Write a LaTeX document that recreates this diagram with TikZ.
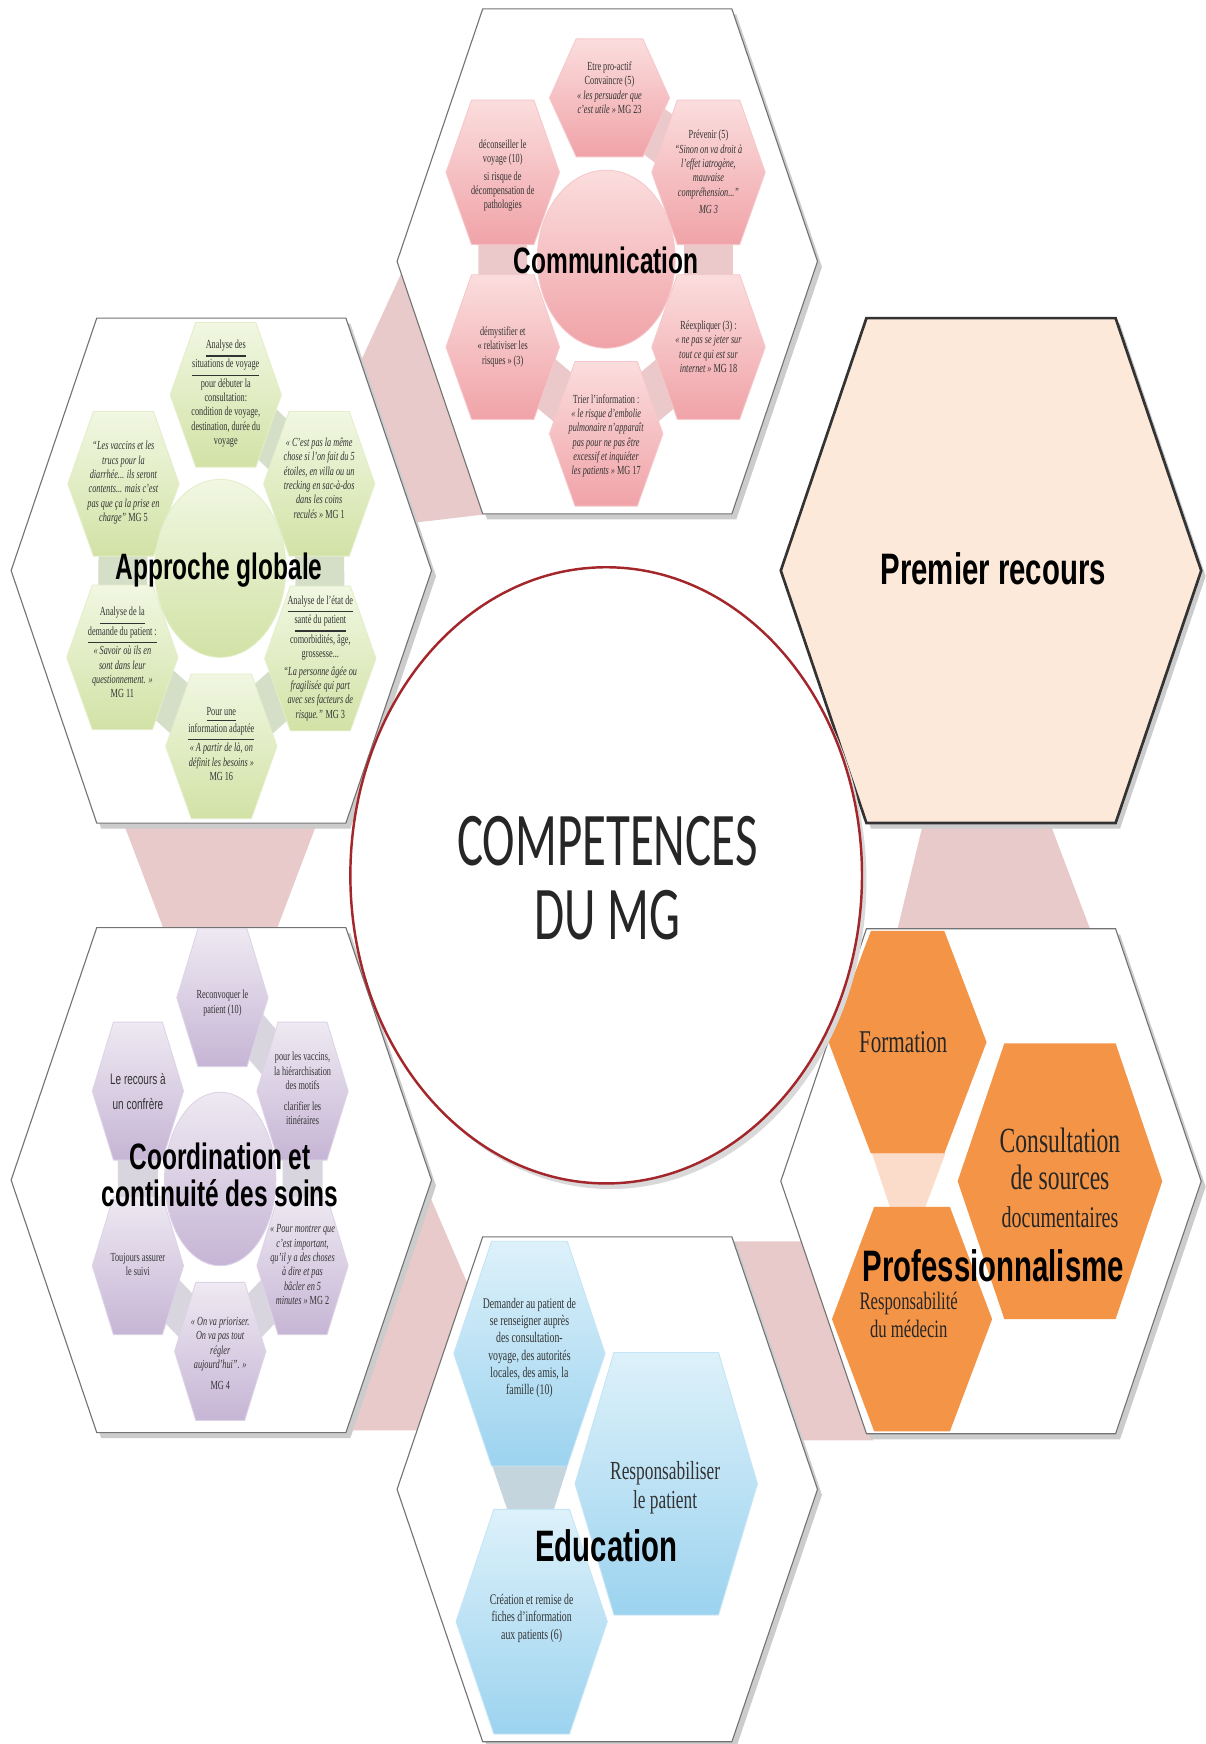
\documentclass[tikz,border=0pt]{standalone}
\usepackage{fontspec}
\usepackage{graphicx}
\setmainfont{Liberation Serif}
\setsansfont{Liberation Sans}
\newfontfamily\calib{Carlito}
\definecolor{biglinkc}{HTML}{E8CACB}
\definecolor{commtopc}{HTML}{FBDDDD}
\definecolor{commbotc}{HTML}{F0A3A8}
\definecolor{commlinkc}{HTML}{EBC8C9}
\definecolor{apprtopc}{HTML}{F1F7E2}
\definecolor{apprbotc}{HTML}{D2E2A6}
\definecolor{apprlinkc}{HTML}{D5DEC6}
\definecolor{coordtopc}{HTML}{EEE9F2}
\definecolor{coordbotc}{HTML}{C6B5D5}
\definecolor{coordlinkc}{HTML}{D9D5DE}
\definecolor{edutopc}{HTML}{DDF1FA}
\definecolor{edubotc}{HTML}{9CD3EF}
\definecolor{edulinkc}{HTML}{C5D5DD}
\definecolor{orangec}{HTML}{F39447}
\definecolor{proflinkc}{HTML}{FBDCCB}
\definecolor{premc}{HTML}{FDE9D9}
\definecolor{ringredc}{HTML}{A3262A}
\newcommand{\hexat}[6][]{\path[#1] ({#2-#4},{#3}) -- ({#2-#5},{#3-#6}) -- ({#2+#5},{#3-#6}) -- ({#2+#4},{#3}) -- ({#2+#5},{#3+#6}) -- ({#2-#5},{#3+#6}) -- cycle;}
\newcommand{\vstr}[2][1.5]{\scalebox{1}[#1]{#2}}
\newcommand{\txtlines}[1]{\begin{tabular}{@{}c@{}}#1\end{tabular}}

\begin{document}
\begin{tikzpicture}[x=0.5pt,y=-0.5pt,
  bighex/.style={fill=white,draw=black!55,line width=0.5pt},
  bigshade/.style={fill=black!20},
  biglink/.style={fill=biglinkc},
  commhex/.style={top color=commtopc,bottom color=commbotc,draw=commbotc!60},
  commlink/.style={draw=commlinkc,line width=22pt,line join=round},
  apprhex/.style={top color=apprtopc,bottom color=apprbotc,draw=apprbotc!60},
  apprlink/.style={draw=apprlinkc,line width=22pt,line join=round},
  coordhex/.style={top color=coordtopc,bottom color=coordbotc,draw=coordbotc!60},
  coordlink/.style={draw=coordlinkc,line width=18pt,line join=round},
  eduhex/.style={top color=edutopc,bottom color=edubotc,draw=edubotc!60},
  profhex/.style={fill=orangec},
  txt/.style={inner sep=0pt,text=black!80,font=\fontsize{3.7}{4.3}\selectfont},
  edtxt/.style={inner sep=0pt,text=black!80,font=\fontsize{4.4}{5.2}\selectfont},
  title/.style={inner sep=0pt,font=\sffamily\bfseries\fontsize{11}{10.7}\selectfont},
  bigtitle/.style={inner sep=0pt,font=\sffamily\bfseries\fontsize{13.2}{13}\selectfont}]
\useasboundingbox (0,0) rectangle (1084,1568);
\fill[white] (0,0) rectangle (1084,1568);

\fill[biglink] (362,243) -- (322,330) -- (372,470) -- (440,462) -- cycle;
\fill[biglink] (111,740) -- (285,740) -- (249,835) -- (147,835) -- cycle;
\fill[biglink] (385,1072) -- (440,1200) -- (378,1286) -- (300,1286) -- cycle;
\fill[biglink] (640,1116) -- (725,1116) -- (785,1295) -- (705,1295) -- cycle;
\fill[biglink] (830,740) -- (944,740) -- (980,835) -- (807,835) -- cycle;

\foreach \cx/\cy in {546/235,199/513,199/1061,891/1062,546/1339,891/513} {
  \hexat[bigshade]{\cx+4}{\cy+5}{189}{112}{227}
  \hexat[bighex]{\cx}{\cy}{189}{112}{227}}
\hexat[fill=premc,draw=black!80,line width=1.2pt]{891}{513}{189}{112}{227}

\draw[commlink] (548,88) -- (637,155) -- (637,312) -- (545,390) -- (452,312) -- (452,155);
\hexat[commhex]{548}{88}{54}{30}{53}
\foreach \cx/\cy in {637/155,637/312,545/390,452/312,452/155} {\hexat[commhex]{\cx}{\cy}{51}{28}{65}}
\path[commhex] (545,233) ellipse [x radius=62, y radius=80];
\node[txt] (comm-top) at (548,80) {\vstr{\txtlines{Etre pro-actif\\ Convaincre (5)\\ \textit{« les persuader que}\\ \textit{c'est utile »} MG 23}}};
\node[txt] (comm-ur) at (637,156) {\vstr{\txtlines{Prévenir (5)\\ \textit{“Sinon on va droit à}\\ \textit{l'effet iatrogène,}\\ \textit{mauvaise}\\ \textit{compréhension...”}\\[1pt] \textit{MG 3}}}};
\node[txt] (comm-lr) at (637,313) {\vstr{\txtlines{Réexpliquer (3) :\\ \textit{« ne pas se jeter sur}\\ \textit{tout ce qui est sur}\\ \textit{internet »} MG 18}}};
\node[txt] (comm-bot) at (545,392) {\vstr{\txtlines{Trier l'information :\\ \textit{« le risque d'embolie}\\ \textit{pulmonaire n'apparaît}\\ \textit{pas pour ne pas être}\\ \textit{excessif et inquiéter}\\ \textit{les patients »} MG 17}}};
\node[txt] (comm-ll) at (452,312) {\vstr{\txtlines{démystifier et\\ « relativiser les\\ risques » (3)}}};
\node[txt] (comm-ul) at (452,158) {\vstr{\txtlines{déconseiller le\\ voyage (10)\\[1pt] si risque de\\ décompensation de\\ pathologies}}};
\node[title] (comm-title) at (545,234) {\vstr{Communication}};

\draw[apprlink] (203,355) -- (287,435) -- (288,592) -- (199,671) -- (110,591) -- (111,435);
\foreach \cx/\cy in {203/355,287/435,288/592,199/671,110/591,111/435} {\hexat[apprhex]{\cx}{\cy}{50}{27}{65}}
\path[apprhex] (198,511) ellipse [x radius=59, y radius=80];
\node[txt] (appr-top) at (203,354) {\vstr{\txtlines{\underline{Analyse des}\\ \underline{situations de voyage}\\ pour débuter la\\ consultation:\\ condition de voyage,\\ destination, durée du\\ voyage}}};
\node[txt] (appr-ur) at (287,431) {\vstr{\txtlines{\textit{« C'est pas la même}\\ \textit{chose si l'on fait du 5}\\ \textit{étoiles, en villa ou un}\\ \textit{trecking en sac-à-dos}\\ \textit{dans les coins}\\ \textit{reculés »} MG 1}}};
\node[txt] (appr-lr) at (288,592) {\vstr{\txtlines{\underline{Analyse de l'état de}\\ \underline{santé du patient}\\[1pt] comorbidités, âge,\\ grossesse...\\[1pt] \textit{“La personne âgée ou}\\ \textit{fragilisée qui part}\\ \textit{avec ses facteurs de}\\ \textit{risque.”} MG 3}}};
\node[txt] (appr-bot) at (199,670) {\vstr{\txtlines{\underline{Pour une}\\ \underline{information adaptée}\\[1pt] \textit{« A partir de là, on}\\ \textit{définit les besoins »}\\ MG 16}}};
\node[txt] (appr-ll) at (110,588) {\vstr{\txtlines{\underline{Analyse de la}\\ \underline{demande du patient :}\\ \textit{« Savoir où ils en}\\ \textit{sont dans leur}\\ \textit{questionnement. »}\\ MG 11}}};
\node[txt] (appr-ul) at (111,434) {\vstr{\txtlines{\textit{“Les vaccins et les}\\ \textit{trucs pour la}\\ \textit{diarrhée... ils seront}\\ \textit{contents... mais c'est}\\ \textit{pas que ça la prise en}\\ \textit{charge”} MG 5}}};
\node[title] (appr-title) at (197,513) {\vstr{Approche globale}};

\node[bigtitle] (prem-title) at (893,511) {\vstr{Premier recours}};

\draw[coordlink] (200,897) -- (272,981) -- (272,1138) -- (198,1215) -- (124,1138) -- (124,981);
\foreach \cx/\cy in {200/897,272/981,272/1138,198/1215,124/1138,124/981} {\hexat[coordhex]{\cx}{\cy}{41}{22}{62}}
\path[coordhex] (198,1060) ellipse [x radius=50, y radius=78];
\node[txt] (coord-top) at (200,902) {\vstr{\txtlines{Reconvoquer le\\ patient (10)}}};
\node[txt] (coord-ur) at (272,980) {\vstr{\txtlines{pour les vaccins,\\ la hiérarchisation\\ des motifs\\[2pt] clarifier les\\ itinéraires}}};
\node[txt] (coord-lr) at (272,1138) {\vstr{\txtlines{\textit{« Pour montrer que}\\ \textit{c'est important,}\\ \textit{qu'il y a des choses}\\ \textit{à dire et pas}\\ \textit{bâcler en 5}\\ \textit{minutes »} MG 2}}};
\node[txt] (coord-bot) at (198,1218) {\vstr{\txtlines{\textit{« On va prioriser.}\\ \textit{On va pas tout}\\ \textit{régler}\\ \textit{aujourd'hui”. »}\\[2pt] MG 4}}};
\node[txt] (coord-ll) at (124,1138) {\vstr{\txtlines{Toujours assurer\\ le suivi}}};
\node[txt,font=\sffamily\fontsize{4.5}{7.3}\selectfont] (coord-ul) at (124,982) {\vstr{\txtlines{Le recours à\\ un confrère}}};
\node[title] (coord-title) at (198,1061) {\vstr{\txtlines{Coordination et\\ continuité des soins}}};

\fill[edulinkc] (442,1316) -- (511,1316) -- (497,1360) -- (457,1360) -- cycle;
\hexat[eduhex]{476}{1217}{68}{34}{101}
\hexat[eduhex]{599}{1334}{82}{47}{118}
\hexat[eduhex]{478}{1458}{68}{34}{101}
\node[edtxt] (edu-dem) at (476,1212) {\vstr{\txtlines{Demander au patient de\\ se renseigner auprès\\ des consultation-\\ voyage, des autorités\\ locales, des amis, la\\ famille (10)}}};
\node[inner sep=0pt,text=black!80,font=\fontsize{7.8}{8.7}\selectfont] (edu-resp) at (598,1338) {\vstr{\txtlines{Responsabiliser\\ le patient}}};
\node[edtxt] (edu-crea) at (478,1455) {\vstr{\txtlines{Création et remise de\\ fiches d'information\\ aux patients (6)}}};
\node[bigtitle] (edu-title) at (545,1390) {\vstr{Education}};

\fill[proflinkc] (784,1037) -- (850,1037) -- (832,1085) -- (800,1085) -- cycle;
\hexat[profhex]{816}{937}{71}{33}{100}
\hexat[profhex]{953}{1062}{92}{50}{124}
\hexat[profhex]{820}{1186}{72}{34}{101}
\node[inner sep=0pt,text=black!85,font=\fontsize{9.5}{11}\selectfont] (prof-form) at (812,937) {\vstr{Formation}};
\node[inner sep=0pt,text=black!85,font=\fontsize{10.6}{11.3}\selectfont] (prof-cons) at (953,1063) {\vstr{\txtlines{Consultation\\ de sources\\ {\fontsize{9}{11.3}\selectfont documentaires}}}};
\node[inner sep=0pt,text=black!85,font=\fontsize{7.5}{8.3}\selectfont] (prof-resp) at (817,1185) {\vstr{\txtlines{Responsabilité\\ du médecin}}};
\node[bigtitle] (prof-title) at (893,1138) {\vstr{Professionnalisme}};

\fill[black!15] (549,792) ellipse [x radius=230, y radius=277];
\draw[ringredc,line width=1.1pt,fill=white] (545,787) ellipse [x radius=230, y radius=277];
\node[inner sep=0pt,text=black!85,font=\calib\fontsize{22}{21.5}\selectfont] (mg) at (546,798) {\vstr[1.55]{\txtlines{COMPETENCES\\ DU MG}}};
\end{tikzpicture}
\end{document}
